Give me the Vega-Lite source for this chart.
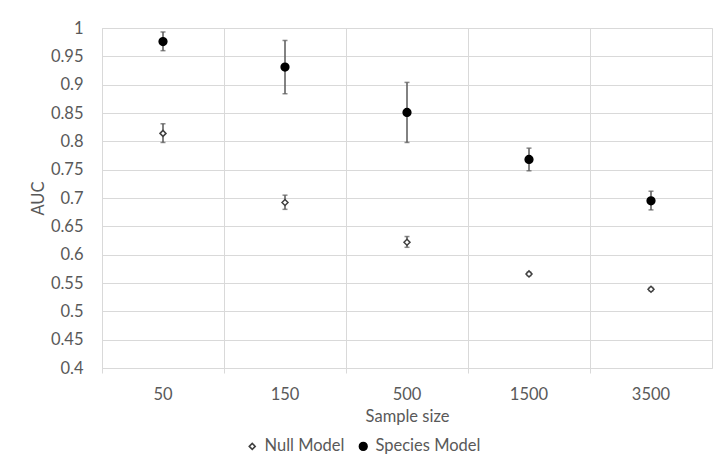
{
  "$schema": "https://vega.github.io/schema/vega-lite/v6.json",
  "width": 610,
  "height": 340,
  "autosize": {"type": "none"},
  "padding": {"left": 102, "top": 28, "right": 7, "bottom": 102},
  "background": "white",
  "config": {
    "font": "Lato",
    "view": {"stroke": "#d9d9d9", "strokeWidth": 1},
    "axis": {"labelFont": "Lato", "titleFont": "Lato", "labelFontSize": 16.5, "titleFontSize": 16.5, "labelColor": "#595959", "titleColor": "#595959", "titleFontWeight": "normal", "gridColor": "#d9d9d9", "gridWidth": 1},
    "axisY": {"values": [0.4, 0.45, 0.5, 0.55, 0.6, 0.65, 0.7, 0.75, 0.8, 0.85, 0.9, 0.95, 1], "format": ".2~f", "labelOverlap": false, "domain": false, "ticks": false, "labelPadding": 19, "titlePadding": 4, "grid": true},
    "legend": {"labelFont": "Lato", "labelFontSize": 16.5, "labelColor": "#595959"}
  },
  "data": {
    "values": [
      {"size": "50", "model": "Null Model", "auc": 0.814, "lo": 0.798, "hi": 0.831},
      {"size": "150", "model": "Null Model", "auc": 0.692, "lo": 0.680, "hi": 0.705},
      {"size": "500", "model": "Null Model", "auc": 0.622, "lo": 0.613, "hi": 0.632},
      {"size": "1500", "model": "Null Model", "auc": 0.566, "lo": 0.563, "hi": 0.569},
      {"size": "3500", "model": "Null Model", "auc": 0.539, "lo": 0.536, "hi": 0.542},
      {"size": "50", "model": "Species Model", "auc": 0.976, "lo": 0.960, "hi": 0.993},
      {"size": "150", "model": "Species Model", "auc": 0.931, "lo": 0.884, "hi": 0.978},
      {"size": "500", "model": "Species Model", "auc": 0.851, "lo": 0.798, "hi": 0.904},
      {"size": "1500", "model": "Species Model", "auc": 0.768, "lo": 0.748, "hi": 0.788},
      {"size": "3500", "model": "Species Model", "auc": 0.695, "lo": 0.679, "hi": 0.712}
    ]
  },
  "encoding": {
    "x": {
      "field": "size", "type": "ordinal", "sort": ["50", "150", "500", "1500", "3500"],
      "scale": {"type": "band", "paddingInner": 0, "paddingOuter": 0},
      "title": "Sample size",
      "axis": {"labelAngle": 0, "bandPosition": 0, "grid": true, "domain": false, "ticks": true, "tickColor": "#d9d9d9", "tickSize": 5, "labelPadding": 13, "labelDx": 4, "titlePadding": 6}
    }
  },
  "layer": [
    {
      "mark": {"type": "rule", "color": "#595959", "strokeWidth": 1.5},
      "encoding": {
        "y": {"field": "lo", "type": "quantitative", "scale": {"domain": [0.4, 1], "nice": false, "zero": false}, "title": "AUC"},
        "y2": {"field": "hi"}
      }
    },
    {
      "mark": {"type": "tick", "color": "#595959", "size": 5, "thickness": 1.5},
      "encoding": {"y": {"field": "lo", "type": "quantitative", "title": "AUC"}}
    },
    {
      "mark": {"type": "tick", "color": "#595959", "size": 5, "thickness": 1.5},
      "encoding": {"y": {"field": "hi", "type": "quantitative", "title": "AUC"}}
    },
    {
      "mark": {"type": "point", "filled": false, "opacity": 1, "strokeWidth": 1.5},
      "encoding": {
        "y": {"field": "auc", "type": "quantitative", "title": "AUC"},
        "shape": {"field": "model", "type": "nominal", "scale": {"domain": ["Null Model", "Species Model"], "range": ["diamond", "circle"]},
          "legend": {"title": null, "orient": "none", "legendX": 142, "legendY": 410, "padding": 0, "direction": "horizontal", "columnPadding": 10, "symbolOffset": 0}},
        "fill": {"field": "model", "type": "nominal", "scale": {"domain": ["Null Model", "Species Model"], "range": ["white", "black"]}},
        "stroke": {"field": "model", "type": "nominal", "scale": {"domain": ["Null Model", "Species Model"], "range": ["#404040", "black"]}},
        "size": {"field": "model", "type": "nominal", "scale": {"domain": ["Null Model", "Species Model"], "range": [36, 60]}}
      }
    }
  ]
}
